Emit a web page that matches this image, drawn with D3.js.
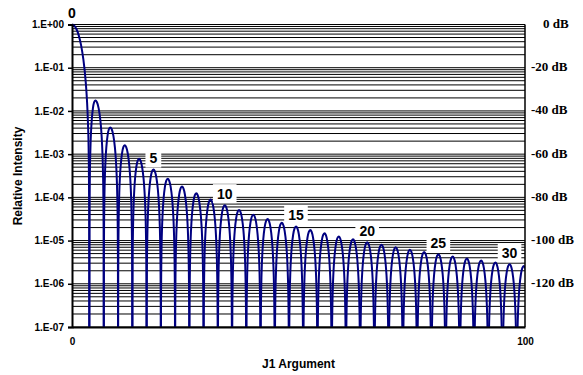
<!DOCTYPE html>
<html>
<head>
<meta charset="utf-8">
<script src="https://cdn.jsdelivr.net/npm/d3@7"></script>
<style>
  html, body { margin: 0; padding: 0; background: #fff; }
  svg { display: block; }
</style>
</head>
<body>
<svg id="chart" width="583" height="375"></svg>
<script>
// ---- data ----
// central peak (x, relative intensity)
const centralX = [0, 0.5, 1, 1.5, 2, 2.5, 3, 3.3, 3.5, 3.7, 3.8, 3.832];
const centralI = [1, 0.939, 0.775, 0.553, 0.333, 0.158, 0.0511, 0.0179, 0.00616, 0.000846, 0.000045, 1e-10];

// zeros of the pattern (where curve drops to the floor)
const zeroX = [3.832, 7.016, 10.174, 13.324, 16.471, 19.616, 22.760, 25.904, 29.047, 32.190,
  35.332, 38.475, 41.617, 44.759, 47.902, 51.044, 54.186, 57.328, 60.470, 63.611,
  66.753, 69.895, 73.037, 76.179, 79.321, 82.462, 85.604, 88.746, 91.888, 95.029,
  98.171, 101.31];

// ring maxima: position and relative intensity
const ringPeakX = [5.136, 8.417, 11.620, 14.796, 17.960, 21.117, 24.270, 27.421, 30.569, 33.717,
  36.863, 40.008, 43.154, 46.298, 49.442, 52.586, 55.730, 58.873, 62.017, 65.160,
  68.303, 71.446, 74.589, 77.732, 80.874, 84.017, 87.160, 90.302, 93.445, 96.588, 99.730];
const ringPeakI = [0.0175, 0.00416, 0.00160, 0.00078, 0.000440, 0.000270, 0.000178, 0.000124, 8.9e-5, 6.6e-5,
  5.1e-5, 3.98e-5, 3.17e-5, 2.57e-5, 2.11e-5, 1.75e-5, 1.47e-5, 1.25e-5, 1.07e-5, 9.2e-6,
  8.0e-6, 7.0e-6, 6.14e-6, 5.42e-6, 4.81e-6, 4.29e-6, 3.85e-6, 3.46e-6, 3.12e-6, 2.83e-6, 2.57e-6];

// shape of one ring lobe: fraction across lobe, decades below its peak
const lobeT = [0, 0.01, 0.025, 0.05, 0.1, 0.15, 0.2, 0.3, 0.4, 0.5, 0.6, 0.7, 0.8, 0.85, 0.9, 0.95, 0.975, 0.99, 1];
const lobeD = [-6, -3.0, -2.21, -1.61, -1.02, -0.686, -0.462, -0.184, -0.043, 0, -0.043, -0.184, -0.462, -0.686, -1.02, -1.61, -2.21, -3.0, -6];

// ring labels (ring number; 0 = central peak)
const labelRings = [0, 5, 10, 15, 20, 25, 30];

// axes
const yTickValues = [1, 1e-1, 1e-2, 1e-3, 1e-4, 1e-5, 1e-6, 1e-7];
const yTickLabels = ["1.E+00", "1.E-01", "1.E-02", "1.E-03", "1.E-04", "1.E-05", "1.E-06", "1.E-07"];
const xTickValues = [0, 100];
const dbValues = [1, 1e-1, 1e-2, 1e-3, 1e-4, 1e-5, 1e-6];
const dbLabels = ["0 dB", "-20 dB", "-40 dB", "-60 dB", "-80 dB", "-100 dB", "-120 dB"];

// ---- layout ----
const W = 583, H = 375;
const m = { left: 72, right: 58, top: 24.5, bottom: 48 };
const svg = d3.select("#chart");
const sans = "Arial, 'Liberation Sans', sans-serif";
const serif = "'Times New Roman', 'Liberation Serif', serif";

const x = d3.scaleLinear().domain([0, 100]).range([m.left, W - m.right]);
const y = d3.scaleLog().domain([1e-7, 1]).range([H - m.bottom, m.top]);

svg.append("defs").append("clipPath").attr("id", "plotclip")
  .append("rect").attr("x", m.left).attr("y", 0)
  .attr("width", W - m.right - m.left).attr("height", H - m.bottom);

// minor log grid
const gridVals = [];
for (let k = -7; k <= 0; k++) {
  for (let mm = 1; mm <= 9; mm++) {
    const v = mm * Math.pow(10, k);
    if (v <= 1.0000001 && v >= 1e-7) gridVals.push(v);
  }
}
svg.append("g").selectAll("line").data(gridVals).join("line")
  .attr("x1", m.left).attr("x2", W - m.right)
  .attr("y1", d => y(d)).attr("y2", d => y(d))
  .attr("stroke", "#000").attr("stroke-width", 1);

// curve
const line = d3.line().x(d => x(d[0])).y(d => y(d[1])).curve(d3.curveMonotoneX);
const curveG = svg.append("g").attr("clip-path", "url(#plotclip)");
curveG.append("path")
  .attr("d", line(centralX.map((v, i) => [v, centralI[i]])))
  .attr("fill", "none").attr("stroke", "#000080").attr("stroke-width", 2);

ringPeakX.forEach((p, i) => {
  const z0 = zeroX[i], z1 = zeroX[i + 1], pk = ringPeakI[i];
  const pts = lobeT.map((t, j) => {
    const xv = t <= 0.5 ? z0 + (t / 0.5) * (p - z0) : p + ((t - 0.5) / 0.5) * (z1 - p);
    return [xv, pk * Math.pow(10, lobeD[j])];
  });
  curveG.append("path").attr("d", line(pts))
    .attr("fill", "none").attr("stroke", "#000080").attr("stroke-width", 2);
});

// frame
svg.append("line").attr("x1", W - m.right).attr("x2", W - m.right)
  .attr("y1", m.top).attr("y2", H - m.bottom).attr("stroke", "#000").attr("stroke-width", 1.5);

// left axis
const yAxis = d3.axisLeft(y).tickValues(yTickValues)
  .tickFormat((d, i) => yTickLabels[i]).tickSize(4).tickPadding(4);
const gy = svg.append("g").attr("transform", `translate(${m.left},0)`).call(yAxis);
gy.select(".domain").attr("stroke", "#000").attr("stroke-width", 2);
gy.selectAll(".tick line").attr("stroke", "#000").attr("stroke-width", 1.5);
gy.selectAll("text").attr("font-family", sans).attr("font-size", 10)
  .attr("font-weight", "bold").attr("fill", "#000");

// bottom axis
const xAxis = d3.axisBottom(x).tickValues(xTickValues).tickSize(0).tickPadding(11);
const gx = svg.append("g").attr("transform", `translate(0,${H - m.bottom})`).call(xAxis);
gx.select(".domain").attr("stroke", "#000").attr("stroke-width", 2);
gx.selectAll("text").attr("font-family", sans).attr("font-size", 10)
  .attr("font-weight", "bold").attr("fill", "#000");

// right dB labels
svg.append("g").selectAll("text").data(dbValues).join("text")
  .attr("x", (d, i) => i === 0 ? 543 : 531)
  .attr("y", d => y(d) - 1).attr("dy", "0.35em")
  .attr("font-family", serif).attr("font-size", 13).attr("font-weight", "bold")
  .text((d, i) => dbLabels[i]);

// ring labels with white boxes
const labG = svg.append("g");
labelRings.forEach(r => {
  const px = r === 0 ? 0 : ringPeakX[r - 1];
  const pv = r === 0 ? 1 : ringPeakI[r - 1];
  const cx = x(px), cy = y(pv) - 11.5;
  const txt = String(r);
  const tw = txt.length * 7.8;
  labG.append("rect").attr("x", cx - tw / 2 - 4).attr("y", cy - 9.5)
    .attr("width", tw + 8).attr("height", 19).attr("fill", "#fff");
  labG.append("text").attr("x", cx).attr("y", cy).attr("dy", "0.36em")
    .attr("text-anchor", "middle").attr("font-family", sans)
    .attr("font-size", 14).attr("font-weight", "bold").text(txt);
});

// axis titles
svg.append("text").attr("x", (m.left + W - m.right) / 2).attr("y", 364).attr("dy", "0.35em")
  .attr("text-anchor", "middle").attr("font-family", sans).attr("font-size", 12)
  .attr("font-weight", "bold").text("J1 Argument");
svg.append("text").attr("transform", `translate(18,176) rotate(-90)`).attr("dy", "0.35em")
  .attr("text-anchor", "middle").attr("font-family", sans).attr("font-size", 12)
  .attr("font-weight", "bold").text("Relative Intensity");
</script>
</body>
</html>
